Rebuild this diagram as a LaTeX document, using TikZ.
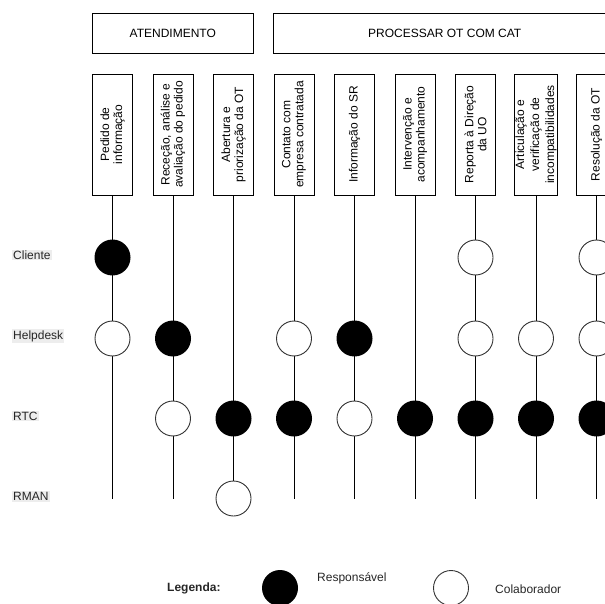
\documentclass[tikz,border=0pt]{standalone}
\usepackage{fontspec}
\setmainfont{Liberation Sans}
\begin{document}
\begin{tikzpicture}[x=1pt,y=-1pt,
  every node/.style={font=\fontsize{12}{13}\selectfont},
  hdr/.style={draw, line width=0.9pt, minimum height=40pt, inner sep=0pt},
  colbox/.style={draw, line width=0.9pt, rotate=90, minimum width=121pt,
    minimum height=40pt, align=center, inner sep=1pt},
  lane/.style={line width=0.8pt},
  resp/.style={circle, fill=black, minimum size=36pt, inner sep=0pt},
  colab/.style={circle, draw=black!80, fill=white, line width=0.9pt,
    minimum size=35pt, inner sep=0pt},
  rowlab/.style={fill=black!7, inner sep=1pt, anchor=west, text=black!85},
  legtxt/.style={anchor=west, text=black!85, inner sep=0pt}]
\useasboundingbox (0,0) rectangle (605,604);
\clip (0,0) rectangle (605,604);

% phase headers
\node[hdr, minimum width=160.5pt] (atend) at (172.75,33.5) {ATENDIMENTO};
\node[hdr, minimum width=342.5pt] (proc) at (444.75,33.5) {PROCESSAR OT COM CAT};

% activity columns
\node[colbox] (c1) at (112.5,134.5) {Pedido de\\informação};
\node[colbox] (c2) at (173,134.5) {Receção, análise e\\avaliação do pedido};
\node[colbox] (c3) at (233.5,134.5) {Abertura e\\priorização da OT};
\node[colbox] (c4) at (294,134.5) {Contato com\\empresa contratada};
\node[colbox] (c5) at (354.5,134.5) {Informação do SR};
\node[colbox] (c6) at (415,134.5) {Intervenção e\\acompanhamento};
\node[colbox] (c7) at (475.5,134.5) {Reporta à Direção\\da UO};
\node[colbox, font=\fontsize{12}{15}\selectfont] (c8) at (536,134.5) {Articulação e\\verificação de\\incompatibilidades};
\node[colbox] (c9) at (596.5,134.5) {Resolução da OT};

% lane ends
\coordinate (e1) at (112.5,499);
\coordinate (e2) at (173,499);
\coordinate (e3) at (233.5,499);
\coordinate (e4) at (294,499);
\coordinate (e5) at (354.5,499);
\coordinate (e6) at (415,499);
\coordinate (e7) at (475.5,499);
\coordinate (e8) at (536,499);
\coordinate (e9) at (596.5,499);
\foreach \i in {1,...,9} \draw[lane] (c\i.west) -- (e\i);

% roles
\node[rowlab] (rcli) at (12,255) {Cliente};
\node[rowlab] (rhelp) at (12,336) {Helpdesk};
\node[rowlab] (rrtc) at (12,416) {RTC};
\node[rowlab] (rman) at (12,496.5) {RMAN};

% participation: Cliente row
\node[resp]  (n11) at (112.5,257.5) {};
\node[colab] (n71) at (475.5,257.5) {};
\node[colab] (n91) at (596.5,257.5) {};
% Helpdesk row
\node[colab] (n12) at (112.5,338.5) {};
\node[resp]  (n22) at (173,338.5) {};
\node[colab] (n42) at (294,338.5) {};
\node[resp]  (n52) at (354.5,338.5) {};
\node[colab] (n72) at (475.5,338.5) {};
\node[colab] (n82) at (536,338.5) {};
\node[colab] (n92) at (596.5,338.5) {};
% RTC row
\node[colab] (n23) at (173,418.5) {};
\node[resp]  (n33) at (233.5,418.5) {};
\node[resp]  (n43) at (294,418.5) {};
\node[colab] (n53) at (354.5,418.5) {};
\node[resp]  (n63) at (415,418.5) {};
\node[resp]  (n73) at (475.5,418.5) {};
\node[resp]  (n83) at (536,418.5) {};
\node[resp]  (n93) at (596.5,418.5) {};
% RMAN row
\node[colab] (n34) at (233.5,498.5) {};

% legend
\node[legtxt, font=\fontsize{12}{13}\selectfont\bfseries] (leg) at (167,588) {Legenda:};
\node[resp] (legr) at (280,588) {};
\node[legtxt] (legrt) at (317,578) {Responsável};
\node[colab] (legc) at (451,588) {};
\node[legtxt] (legct) at (495,589) {Colaborador};
\end{tikzpicture}
\end{document}
